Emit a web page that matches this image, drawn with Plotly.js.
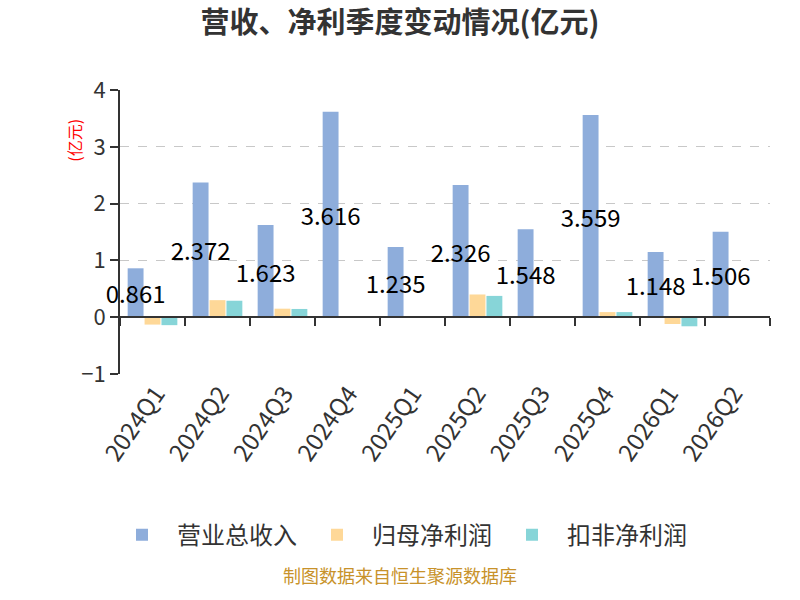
<!DOCTYPE html>
<html>
<head>
<meta charset="utf-8">
<script src="https://cdn.plot.ly/plotly-3.0.1.min.js"></script>
<style>
  body { margin: 0; background: #fff; }
  #chart { width: 800px; height: 600px; }
</style>
</head>
<body>
<div id="chart"></div>
<script>
var quarters = ['2024Q1', '2024Q2', '2024Q3', '2024Q4', '2025Q1', '2025Q2', '2025Q3', '2025Q4', '2026Q1', '2026Q2'];
var revenue = [0.861, 2.372, 1.623, 3.616, 1.235, 2.326, 1.548, 3.559, 1.148, 1.506];
var netProfit = [-0.13, 0.30, 0.15, 0.01, 0.01, 0.40, 0.005, 0.09, -0.12, 0.01];
var deductedProfit = [-0.14, 0.29, 0.145, 0.005, 0.005, 0.375, 0.01, 0.09, -0.16, 0.02];

var revenueText = revenue.map(function (v) { return v.toFixed(3); });

var font = '"Noto Sans CJK SC", "Noto Sans", sans-serif';

var trace1 = {
    x: quarters,
    y: revenue,
    name: '营业总收入',
    type: 'bar',
    marker: { color: '#8eaddb' },
    text: revenueText,
    textposition: 'inside',
    insidetextanchor: 'middle',
    textangle: 0,
    constraintext: 'none',
    cliponaxis: false,
    insidetextfont: { color: '#000', size: 24, family: font },
    hoverinfo: 'x+y'
};

var trace2 = {
    x: quarters,
    y: netProfit,
    name: '归母净利润',
    type: 'bar',
    marker: { color: '#fed898' }
};

var trace3 = {
    x: quarters,
    y: deductedProfit,
    name: '扣非净利润',
    type: 'bar',
    marker: { color: '#87d5d8' }
};

// invisible trace so the bottom label axis has categories
var labelTrace = {
    x: quarters,
    y: revenue.map(function () { return null; }),
    xaxis: 'x2',
    type: 'scatter',
    mode: 'markers',
    showlegend: false,
    hoverinfo: 'skip'
};

var data = [trace1, trace2, trace3, labelTrace];

var layout = {
    width: 800,
    height: 600,
    font: { family: font, color: '#333' },
    paper_bgcolor: '#fff',
    plot_bgcolor: '#fff',
    barmode: 'group',
    bargap: 0.22,
    bargroupgap: 0.06,
    title: {
        text: '<b>营收、净利季度变动情况(亿元)</b>',
        font: { size: 29, color: '#333', family: font },
        x: 0.5,
        xanchor: 'center',
        y: 0.962,
        yanchor: 'middle'
    },
    margin: { l: 120, r: 30, t: 90, b: 226 },
    xaxis: {
        type: 'category',
        anchor: 'free',
        position: 0.2,
        showline: true,
        linecolor: '#333',
        linewidth: 2,
        ticks: 'outside',
        tickson: 'boundaries',
        ticklen: 8,
        tickwidth: 2,
        tickcolor: '#333',
        showticklabels: false,
        showgrid: false
    },
    xaxis2: {
        type: 'category',
        overlaying: 'x',
        anchor: 'y',
        side: 'bottom',
        showline: false,
        ticks: '',
        showgrid: false,
        tickangle: -55,
        tickfont: { size: 24, color: '#333', family: font }
    },
    yaxis: {
        range: [-1, 4],
        dtick: 1,
        showline: true,
        linecolor: '#333',
        linewidth: 2,
        ticks: 'outside',
        ticklen: 8,
        tickwidth: 2,
        tickcolor: '#333',
        tickfont: { size: 22, color: '#333', family: font },
        showgrid: true,
        gridcolor: '#c8c8c8',
        griddash: 'dash',
        gridwidth: 1,
        zeroline: false
    },
    legend: {
        orientation: 'h',
        x: 0.43,
        xanchor: 'center',
        y: -0.567,
        yanchor: 'middle',
        font: { size: 24, color: '#333', family: font },
        itemwidth: 60
    },
    annotations: [
        {
            text: '(亿元)',
            xref: 'paper',
            yref: 'paper',
            x: -0.092,
            y: 0.905,
            textangle: -90,
            showarrow: false,
            font: { size: 16, color: '#ff0000', family: font }
        },
        {
            text: '制图数据来自恒生聚源数据库',
            xref: 'paper',
            yref: 'paper',
            x: 0.43,
            y: -0.76,
            showarrow: false,
            font: { size: 18, color: '#c8922a', family: font }
        }
    ]
};

Plotly.newPlot('chart', data, layout, { displayModeBar: false });
</script>
</body>
</html>
